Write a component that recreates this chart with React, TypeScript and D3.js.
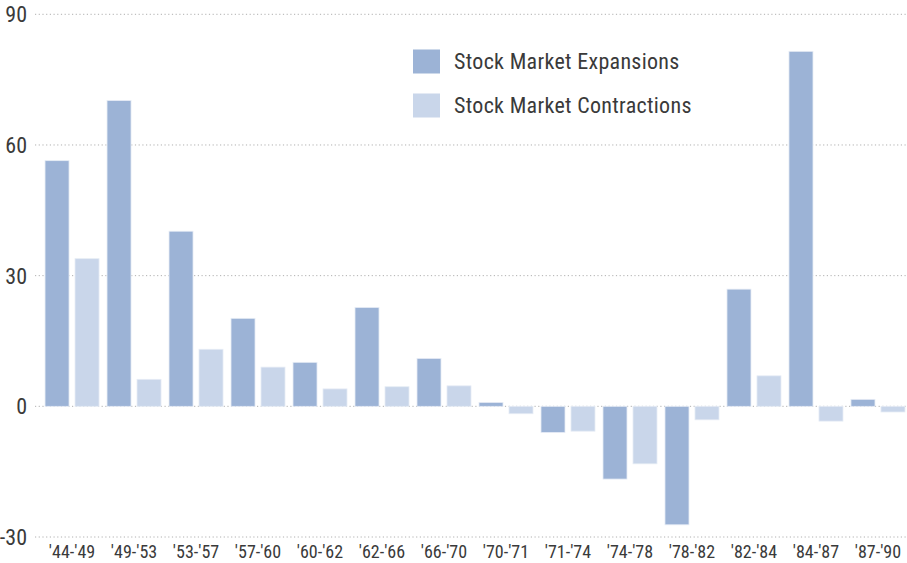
import React from "react";
import * as d3 from "d3";

const categories = ["'44-'49", "'49-'53", "'53-'57", "'57-'60", "'60-'62", "'62-'66", "'66-'70", "'70-'71", "'71-'74", "'74-'78", "'78-'82", "'82-'84", "'84-'87", "'87-'90"];
const expansions = [56.4, 70.2, 40.2, 20.2, 10.1, 22.7, 11.0, 0.9, -6.0, -16.7, -27.2, 26.9, 81.5, 1.6];
const contractions = [33.9, 6.2, 13.1, 9.0, 4.0, 4.5, 4.7, -1.7, -5.7, -13.2, -3.1, 7.0, -3.4, -1.3];
const seriesNames = ["Stock Market Expansions", "Stock Market Contractions"];
const seriesColors = ["#9cb3d6", "#c9d6ea"];
const yTicks = [90, 60, 30, 0, -30];

const W = 907;
const H = 563;
const FONT = "'Liberation Sans Narrow', 'Roboto Condensed', 'Arial Narrow', Roboto, sans-serif";

export default function App() {
  const x = d3.scaleBand<string>().domain(categories).range([41, 909]).paddingInner(8 / 62).paddingOuter(0.065);
  const sub = d3.scaleBand<string>().domain(["e", "c"]).range([0, x.bandwidth()]).paddingInner(0.2).paddingOuter(0);
  const y = d3.scaleLinear().domain([-30, 90]).range([537, 14.3]);

  const series = [expansions, contractions];
  const keys = ["e", "c"];

  return (
    <svg width={W} height={H} style={{ position: "absolute", left: 0, top: 0, background: "#fff" }} fontFamily={FONT}>
      {yTicks.map((t) => (
        <g key={t}>
          <line x1={35} x2={907} y1={y(t)} y2={y(t)} stroke="#b0b0b0" strokeWidth={1} strokeDasharray="1.2 2.5" />
          <text x={27} y={y(t)} dy="0.36em" textAnchor="end" fontSize={22} fill="#3a3a3a">{t}</text>
        </g>
      ))}
      {categories.map((c, i) => (
        <g key={c} transform={`translate(${x(c)},0)`}>
          {series.map((s, j) => {
            const v = s[i];
            const y0 = y(0), y1 = y(v);
            return (
              <rect key={j} x={sub(keys[j])} width={sub.bandwidth()} y={Math.min(y0, y1)} height={Math.abs(y1 - y0)}
                fill={seriesColors[j]} stroke="#e6ecf5" strokeWidth={0.8} />
            );
          })}
          <text x={x.bandwidth() / 2} y={558} textAnchor="middle" fontSize={18} fill="#3a3a3a">{c}</text>
        </g>
      ))}
      {seriesNames.map((n, j) => (
        <g key={n} transform={`translate(413,${49.5 + j * 44})`}>
          <rect width={27} height={24} fill={seriesColors[j]} />
          <text x={41} y={12} dy="0.36em" fontSize={22} letterSpacing={0.3} fill="#3a3a3a">{n}</text>
        </g>
      ))}
    </svg>
  );
}
